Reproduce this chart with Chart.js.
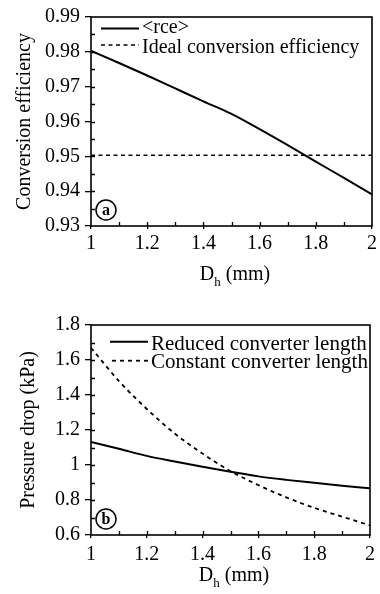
<!DOCTYPE html>
<html><head><meta charset="utf-8">
<script src="https://cdn.jsdelivr.net/npm/chart.js@4.4.0/dist/chart.umd.min.js"></script>
<style>
html,body{margin:0;padding:0;background:#fff;}
#wrap{position:relative;width:380px;height:594px;overflow:hidden;background:#fff;}
canvas{position:absolute;left:0;}
</style></head><body>
<div id="wrap">
<canvas id="c1" width="380" height="297" style="top:0;width:380px;height:297px"></canvas>
<canvas id="c2" width="380" height="297" style="top:297px;width:380px;height:297px"></canvas>
</div>
<script>
// ---- data ----
const dh = [1.0, 1.1, 1.2, 1.3, 1.4, 1.5, 1.6, 1.7, 1.8, 1.9, 2.0];
const rce = [0.9803, 0.9768, 0.9732, 0.9695, 0.9658, 0.9622, 0.9578, 0.9532, 0.9485, 0.9438, 0.9391];
const idealDh = [1.0, 2.0];
const idealEff = [0.9503, 0.9503];
const reducedLen = [1.132, 1.093, 1.052, 1.020, 0.990, 0.962, 0.935, 0.915, 0.898, 0.882, 0.867];
const constantLen = [1.67, 1.48, 1.32, 1.18, 1.065, 0.965, 0.885, 0.815, 0.755, 0.705, 0.655];

// tick labels and tick marks
const dhTicks = [1, 1.2, 1.4, 1.6, 1.8, 2];
const dhMarks = [1.1, 1.2, 1.3, 1.4, 1.5, 1.6, 1.7, 1.8, 1.9];
const effTicks = [0.93, 0.94, 0.95, 0.96, 0.97, 0.98, 0.99];
const effMarks = [0.935, 0.94, 0.945, 0.95, 0.955, 0.96, 0.965, 0.97, 0.975, 0.98, 0.985];
const pressTicks = [0.6, 0.8, 1, 1.2, 1.4, 1.6, 1.8];
const pressMarks = [0.7, 0.8, 0.9, 1.0, 1.1, 1.2, 1.3, 1.4, 1.5, 1.6, 1.7];

const labelsA = ['<rce>', 'Ideal conversion efficiency'];
const labelsB = ['Reduced converter length', 'Constant converter length'];

const SERIF = "'Liberation Serif', 'Times New Roman', Times, serif";
Chart.defaults.font.family = SERIF;
Chart.defaults.color = '#000';

const pts = (xs, ys) => xs.map((x, i) => ({x: x, y: ys[i]}));
const fmt = v => String(Number(Number(v).toFixed(3)));

const deco = {
  id: 'deco',
  afterDraw(chart, args, o) {
    const ctx = chart.ctx, a = chart.chartArea;
    const xs = chart.scales.x, ys = chart.scales.y;
    ctx.save();
    ctx.strokeStyle = '#000';
    ctx.fillStyle = '#000';
    ctx.setLineDash([]);
    // inner tick marks
    ctx.lineWidth = 1.3;
    ctx.beginPath();
    o.xMarks.forEach(v => { const p = Math.round(xs.getPixelForValue(v)) + 0.5; ctx.moveTo(p, a.bottom); ctx.lineTo(p, a.bottom - 4); });
    o.yMarks.forEach(v => { const p = Math.round(ys.getPixelForValue(v)) + 0.5; ctx.moveTo(a.left, p); ctx.lineTo(a.left + 4, p); });
    ctx.stroke();
    // frame
    ctx.lineWidth = 1.6;
    ctx.strokeRect(a.left, a.top, a.right - a.left, a.bottom - a.top);
    // legend
    const ds = chart.data.datasets;
    ctx.font = o.legendSize + 'px ' + SERIF;
    ctx.textBaseline = 'alphabetic';
    ctx.textAlign = 'left';
    o.legend.forEach((L, i) => {
      ctx.lineWidth = ds[i].borderWidth;
      ctx.setLineDash(ds[i].borderDash || []);
      ctx.beginPath();
      ctx.moveTo(a.left + L.x0, a.top + L.y);
      ctx.lineTo(a.left + L.x1, a.top + L.y);
      ctx.stroke();
      ctx.setLineDash([]);
      ctx.fillText(ds[i].label, a.left + o.textX, a.top + L.base);
    });
    // circled panel letter
    const cx = a.left + 15, cy = a.bottom - 16;
    ctx.lineWidth = 1.5;
    ctx.beginPath();
    ctx.arc(cx, cy, 10, 0, Math.PI * 2);
    ctx.stroke();
    ctx.font = 'bold 16px ' + SERIF;
    ctx.textAlign = 'center';
    ctx.textBaseline = 'middle';
    ctx.fillText(o.letter, cx, cy + 1);
    // x-axis title  D_h (mm)
    const big = '20px ' + SERIF, small = '13px ' + SERIF;
    ctx.textAlign = 'left';
    ctx.textBaseline = 'alphabetic';
    ctx.font = big; const wD = ctx.measureText('D').width;
    ctx.font = small; const wh = ctx.measureText('h').width;
    ctx.font = big; const wr = ctx.measureText(' (mm)').width;
    const tot = wD + wh + wr;
    let x0 = (a.left + a.right) / 2 + 3.5 - tot / 2;
    const by = a.bottom + o.titleY;
    ctx.font = big; ctx.fillText('D', x0, by);
    ctx.font = small; ctx.fillText('h', x0 + wD, by + 6);
    ctx.font = big; ctx.fillText(' (mm)', x0 + wD + wh, by);
    ctx.restore();
  }
};

function makeChart(id, cfg) {
  return new Chart(document.getElementById(id), {
    type: 'line',
    data: { datasets: cfg.datasets },
    options: {
      responsive: false,
      animation: false,
      devicePixelRatio: 1,
      layout: { padding: { top: cfg.top, right: 8, left: 0, bottom: 0 } },
      plugins: { legend: { display: false }, tooltip: { enabled: false }, deco: cfg.deco },
      elements: { point: { radius: 0 }, line: { cubicInterpolationMode: 'monotone' } },
      scales: {
        x: {
          type: 'linear', min: 1, max: 2,
          afterBuildTicks: s => { s.ticks = dhTicks.map(v => ({value: v})); },
          afterFit: s => { s.height = cfg.xHeight; },
          border: { display: false },
          grid: { drawOnChartArea: false, drawTicks: true, tickLength: 3, color: '#000', lineWidth: 1.3 },
          ticks: { font: { size: 20 }, color: '#000', padding: cfg.xPad, maxRotation: 0, callback: fmt }
        },
        y: {
          type: 'linear', min: cfg.ymin, max: cfg.ymax,
          afterBuildTicks: s => { s.ticks = cfg.yTicks.map(v => ({value: v})); },
          afterFit: s => { s.width = 91; },
          border: { display: false },
          grid: { drawOnChartArea: false, drawTicks: true, tickLength: 6, color: '#000', lineWidth: 1.3 },
          ticks: { font: { size: 20 }, color: '#000', padding: 5, callback: fmt },
          title: { display: true, text: cfg.yTitle, font: { size: 20 }, color: '#000', padding: { top: cfg.yTitlePad, bottom: 0 } }
        }
      }
    },
    plugins: [deco]
  });
}

makeChart('c1', {
  top: 17, xHeight: 71, xPad: 3, ymin: 0.93, ymax: 0.99, yTicks: effTicks,
  yTitle: 'Conversion efficiency', yTitlePad: 13,
  datasets: [
    { label: labelsA[0], data: pts(dh, rce), borderColor: '#000', borderWidth: 2, fill: false },
    { label: labelsA[1], data: pts(idealDh, idealEff), borderColor: '#000', borderWidth: 1.6, borderDash: [4, 3.5], fill: false }
  ],
  deco: {
    xMarks: dhMarks, yMarks: effMarks, letter: 'a', titleY: 54, legendSize: 20, textX: 51,
    legend: [ { x0: 10, x1: 48, y: 11.5, base: 16 }, { x0: 10, x1: 48, y: 28, base: 36 } ]
  }
});

makeChart('c2', {
  top: 28, xHeight: 59, xPad: 5, ymin: 0.6, ymax: 1.8, yTicks: pressTicks,
  yTitle: 'Pressure drop (kPa)', yTitlePad: 17,
  datasets: [
    { label: labelsB[0], data: pts(dh, reducedLen), borderColor: '#000', borderWidth: 2, fill: false },
    { label: labelsB[1], data: pts(dh, constantLen), borderColor: '#000', borderWidth: 1.8, borderDash: [4, 4], fill: false }
  ],
  deco: {
    xMarks: dhMarks, yMarks: pressMarks, letter: 'b', titleY: 46, legendSize: 21, textX: 60,
    legend: [ { x0: 19, x1: 57, y: 16.7, base: 25 }, { x0: 21, x1: 57, y: 35.7, base: 43 } ]
  }
});
</script>
</body></html>
